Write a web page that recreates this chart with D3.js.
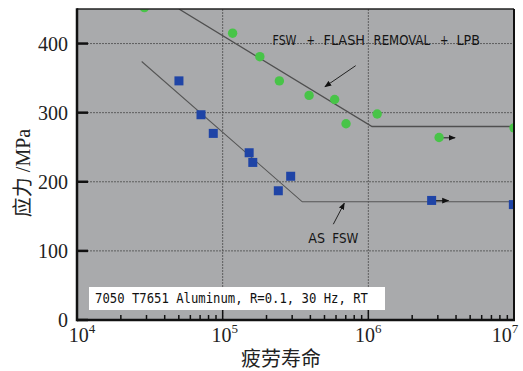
<!DOCTYPE html>
<html>
<head>
<meta charset="utf-8">
<script src="https://cdn.jsdelivr.net/npm/d3@7"></script>
<style>
  body { margin: 0; background: #fff; }
  svg { display: block; }
</style>
</head>
<body>
<svg id="chart"></svg>
<script>
// cycles to failure vs stress (MPa)
const lpbCycles = [2.9e4, 1.17e5, 1.8e5, 2.45e5, 3.92e5, 5.87e5, 7.03e5, 1.15e6, 3.06e6, 1e7];
const lpbStress = [452, 415, 381, 346, 325, 319, 284, 298, 264, 278];
const fswCycles = [5.01e4, 7.1e4, 8.62e4, 1.52e5, 1.61e5, 2.41e5, 2.93e5, 2.72e6, 9.9e6];
const fswStress = [346, 297, 270, 242, 228, 187, 208, 173, 167];

// fitted S-N curves
const lpbFitCycles = [5.01e4, 1.06e6, 1e7];
const lpbFitStress = [450, 280, 280];
const fswFitCycles = [2.78e4, 3.52e5, 1e7];
const fswFitStress = [374, 171, 171];

// annotation arrows [x1, y1, x2, y2] in data units
const arrows = [
  [8.19e5, 368, 5.03e5, 337.5],
  [5.75e5, 138.6, 6.84e5, 169],
  [3.1e6, 263.6, 3.94e6, 263.6],
  [2.8e6, 172.8, 3.55e6, 172.8]
];

const yTicks = [0, 100, 200, 300, 400];
const xDecades = [1e4, 1e5, 1e6, 1e7];
const lpbWords = ['FSW', '+', 'FLASH', 'REMOVAL', '+', 'LPB'];
const fswWords = ['AS', 'FSW'];
const noteText = '7050 T7651 Aluminum, R=0.1, 30 Hz, RT';

const width = 523;
const height = 371;
const margin = {top: 9, right: 9, bottom: 51, left: 77};

const svg = d3.select('#chart')
  .attr('width', width)
  .attr('height', height);

const x = d3.scaleLog()
  .domain([1e4, 1e7])
  .range([margin.left, width - margin.right]);
const y = d3.scaleLinear()
  .domain([0, 450])
  .range([height - margin.bottom, margin.top]);

const x0 = margin.left, x1 = width - margin.right;
const y0 = height - margin.bottom, y1 = margin.top;

svg.append('defs').append('clipPath')
  .attr('id', 'plot-clip')
  .append('rect')
  .attr('x', x0).attr('y', y1)
  .attr('width', x1 - x0).attr('height', y0 - y1);

const marker = svg.select('defs').append('marker')
  .attr('id', 'arrow')
  .attr('viewBox', '0 0 10 10')
  .attr('refX', 9).attr('refY', 5)
  .attr('markerWidth', 7).attr('markerHeight', 7)
  .attr('markerUnits', 'userSpaceOnUse')
  .attr('orient', 'auto');
marker.append('path')
  .attr('d', 'M0,1L10,5L0,9Z')
  .attr('fill', '#111');

// plot background
svg.append('rect')
  .attr('x', x0).attr('y', y1)
  .attr('width', x1 - x0).attr('height', y0 - y1)
  .attr('fill', '#a9aaac');

// grid
svg.append('g')
  .selectAll('line')
  .data(yTicks.filter(d => d > 0))
  .join('line')
  .attr('x1', x0 + 10).attr('x2', x1)
  .attr('y1', d => y(d)).attr('y2', d => y(d))
  .attr('stroke', '#4a4a4a')
  .attr('stroke-width', 0.8)
  .attr('stroke-dasharray', '2,1');

svg.append('g')
  .selectAll('line')
  .data([1e5, 1e6])
  .join('line')
  .attr('x1', d => x(d)).attr('x2', d => x(d))
  .attr('y1', y0).attr('y2', y1)
  .attr('stroke', '#4a4a4a')
  .attr('stroke-width', 0.8)
  .attr('stroke-dasharray', '2,1');

// x minor / major ticks (inward)
const minor = [];
[1e4, 1e5, 1e6].forEach(dec => {
  for (let k = 2; k <= 9; k++) minor.push(dec * k);
});
svg.append('g')
  .selectAll('line')
  .data(minor)
  .join('line')
  .attr('x1', d => x(d)).attr('x2', d => x(d))
  .attr('y1', y0).attr('y2', y0 - 5)
  .attr('stroke', '#111')
  .attr('stroke-width', 1.5);
svg.append('g')
  .selectAll('line')
  .data([1e5, 1e6])
  .join('line')
  .attr('x1', d => x(d)).attr('x2', d => x(d))
  .attr('y1', y0).attr('y2', y0 - 10)
  .attr('stroke', '#111')
  .attr('stroke-width', 1.5);

// y ticks (inward)
svg.append('g')
  .selectAll('line')
  .data(yTicks)
  .join('line')
  .attr('x1', x0).attr('x2', x0 + 11)
  .attr('y1', d => y(d)).attr('y2', d => y(d))
  .attr('stroke', '#111')
  .attr('stroke-width', 2.5);

// fit lines
const line = d3.line().x(d => x(d[0])).y(d => y(d[1]));
const plot = svg.append('g').attr('clip-path', 'url(#plot-clip)');

plot.append('path')
  .datum(d3.zip(lpbFitCycles, lpbFitStress))
  .attr('d', line)
  .attr('fill', 'none')
  .attr('stroke', '#4f4f4f')
  .attr('stroke-width', 1.3);
plot.append('path')
  .datum(d3.zip(fswFitCycles, fswFitStress))
  .attr('d', line)
  .attr('fill', 'none')
  .attr('stroke', '#555')
  .attr('stroke-width', 1.1);

// arrows
plot.append('g')
  .selectAll('line')
  .data(arrows)
  .join('line')
  .attr('x1', d => x(d[0])).attr('y1', d => y(d[1]))
  .attr('x2', d => x(d[2])).attr('y2', d => y(d[3]))
  .attr('stroke', '#222')
  .attr('stroke-width', 1)
  .attr('marker-end', 'url(#arrow)');

// data points
plot.append('g')
  .selectAll('circle')
  .data(d3.zip(lpbCycles, lpbStress))
  .join('circle')
  .attr('cx', d => x(d[0]))
  .attr('cy', d => y(d[1]))
  .attr('r', 4.7)
  .attr('fill', '#48c448');

const sq = 9;
plot.append('g')
  .selectAll('rect')
  .data(d3.zip(fswCycles, fswStress))
  .join('rect')
  .attr('x', d => x(d[0]) - sq / 2)
  .attr('y', d => y(d[1]) - sq / 2)
  .attr('width', sq).attr('height', sq)
  .attr('fill', '#1f44a6');

// annotations: words placed one by one, the gaps in the original are uneven
const labelFont = '"DejaVu Sans", Verdana, sans-serif';
const lpbPos = [[272.5, 24], [306.5, 8.5], [323.5, 41.5], [373.5, 56.5], [440, 8.5], [456.5, 23.5]];
svg.append('g')
  .selectAll('text')
  .data(lpbWords)
  .join('text')
  .attr('x', (d, i) => lpbPos[i][0])
  .attr('y', 45)
  .attr('textLength', (d, i) => lpbPos[i][1])
  .attr('lengthAdjust', 'spacingAndGlyphs')
  .style('font-family', labelFont)
  .style('font-size', '13.5px')
  .attr('fill', '#151515')
  .text(d => d);

const fswPos = [[308.3, 16.7], [332.3, 26]];
svg.append('g')
  .selectAll('text')
  .data(fswWords)
  .join('text')
  .attr('x', (d, i) => fswPos[i][0])
  .attr('y', 243)
  .attr('textLength', (d, i) => fswPos[i][1])
  .attr('lengthAdjust', 'spacingAndGlyphs')
  .style('font-family', labelFont)
  .style('font-size', '13.5px')
  .attr('fill', '#151515')
  .text(d => d);

svg.append('rect')
  .attr('x', 89).attr('y', 287)
  .attr('width', 296).attr('height', 23)
  .attr('fill', '#fff');
svg.append('text')
  .attr('x', 95).attr('y', 303)
  .attr('textLength', 273)
  .attr('lengthAdjust', 'spacingAndGlyphs')
  .style('font-family', '"DejaVu Sans Mono", monospace')
  .style('font-size', '13.5px')
  .attr('fill', '#111')
  .text(noteText);

// frame
svg.append('line')
  .attr('x1', x0).attr('x2', x1).attr('y1', y1).attr('y2', y1)
  .attr('stroke', '#222').attr('stroke-width', 1.5);
svg.append('line')
  .attr('x1', x1).attr('x2', x1).attr('y1', y1).attr('y2', y0)
  .attr('stroke', '#111').attr('stroke-width', 2);
svg.append('line')
  .attr('x1', x0).attr('x2', x0).attr('y1', y1 - 0.75).attr('y2', y0 + 1.25)
  .attr('stroke', '#111').attr('stroke-width', 2.5);
svg.append('line')
  .attr('x1', x0).attr('x2', x1 + 1).attr('y1', y0).attr('y2', y0)
  .attr('stroke', '#111').attr('stroke-width', 2.5);

// tick labels
svg.append('g')
  .selectAll('text')
  .data(yTicks)
  .join('text')
  .attr('x', 68)
  .attr('y', d => y(d))
  .attr('dy', '0.35em')
  .attr('text-anchor', 'end')
  .style('font-family', '"Liberation Serif", "Times New Roman", serif')
  .style('font-size', '20px')
  .attr('fill', '#222')
  .text(d => d);

const xShift = [5, 2, 0, -9];
const xLabels = svg.append('g')
  .selectAll('text')
  .data(xDecades)
  .join('text')
  .attr('x', (d, i) => x(d) + xShift[i])
  .attr('y', 342)
  .attr('text-anchor', 'middle')
  .style('font-family', '"Liberation Serif", "Times New Roman", serif')
  .style('font-size', '20px')
  .attr('fill', '#222');
xLabels.append('tspan').text('10');
xLabels.append('tspan')
  .attr('dy', -9)
  .style('font-size', '13px')
  .text(d => Math.round(Math.log10(d)));

// axis titles
svg.append('text')
  .attr('transform', 'translate(30,173) rotate(-90)')
  .attr('text-anchor', 'middle')
  .style('font-family', '"Liberation Serif", "Noto Sans CJK SC", serif')
  .style('font-size', '20px')
  .attr('fill', '#222')
  .text('应力 /MPa');

svg.append('text')
  .attr('x', 281).attr('y', 366)
  .attr('text-anchor', 'middle')
  .style('font-family', '"Noto Sans CJK SC", serif')
  .style('font-size', '20px')
  .attr('fill', '#222')
  .text('疲劳寿命');
</script>
</body>
</html>
